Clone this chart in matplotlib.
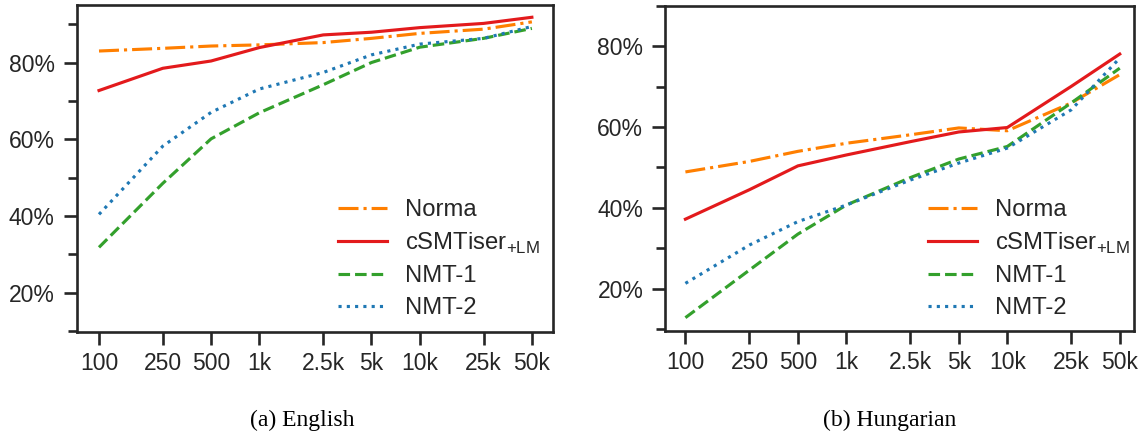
import matplotlib
matplotlib.use("Agg")
import matplotlib.pyplot as plt
from matplotlib.ticker import FixedLocator, MultipleLocator, FuncFormatter

# --- Data ---
sizes = [100, 250, 500, 1000, 2500, 5000, 10000, 25000, 50000]
size_labels = ["100", "250", "500", "1k", "2.5k", "5k", "10k", "25k", "50k"]

en_norma = [83.0, 83.7, 84.3, 84.6, 85.2, 86.3, 87.6, 88.7, 90.6]
en_csmt = [72.7, 78.5, 80.4, 83.9, 87.2, 87.9, 89.1, 90.2, 91.8]
en_nmt1 = [31.8, 48.5, 60.1, 66.9, 74.2, 80.0, 84.0, 86.3, 88.9]
en_nmt2 = [40.4, 58.2, 67.0, 73.1, 77.4, 82.0, 84.8, 86.3, 89.4]

hu_norma = [48.9, 51.5, 54.0, 56.0, 58.1, 59.8, 59.1, 66.0, 73.0]
hu_csmt = [37.2, 44.5, 50.4, 53.1, 56.4, 58.8, 59.9, 70.1, 78.1]
hu_nmt1 = [12.8, 24.6, 33.5, 40.7, 47.5, 52.1, 55.2, 66.0, 74.6]
hu_nmt2 = [21.3, 30.8, 36.6, 40.7, 46.9, 51.1, 54.8, 64.3, 77.1]

labels = ["Norma", r"cSMTiser$_{\mathrm{+LM}}$", "NMT-1", "NMT-2"]
colors = ["#ff7f00", "#e31a1c", "#33a02c", "#1f78b4"]
styles = ["-.", "-", "--", ":"]

# --- Style (roughly seaborn "ticks" + "talk") ---
txt = "#262626"
plt.rcParams.update({
    "font.family": ["Liberation Sans", "DejaVu Sans"],
    "mathtext.fontset": "custom",
    "mathtext.rm": "Liberation Sans",
    "axes.linewidth": 1.9,
    "axes.edgecolor": txt,
    "xtick.color": txt,
    "ytick.color": txt,
    "text.color": txt,
    "xtick.major.width": 1.9,
    "ytick.major.width": 1.9,
    "ytick.minor.width": 1.9,
    "xtick.major.size": 9,
    "ytick.major.size": 9.5,
    "ytick.minor.size": 6.2,
    "xtick.labelsize": 16.5,
    "ytick.labelsize": 16.5,
    "legend.fontsize": 17.2,
})

W, H = 1144, 436
fig = plt.figure(figsize=(W / 100, H / 100), dpi=100)


def px_axes(x0, x1, ytop, ybot):
    return fig.add_axes([x0 / W, 1 - ybot / H, (x1 - x0) / W, (ybot - ytop) / H])


ax_en = px_axes(76.7, 553.3, 5, 331.7)
ax_hu = px_axes(665.3, 1134, 6, 331)

panels = [
    (ax_en, [en_norma, en_csmt, en_nmt1, en_nmt2], (72.6, 68000), (9.8, 95),
     "(a) English", 302.5, (0.528, 0.435)),
    (ax_hu, [hu_norma, hu_csmt, hu_nmt1, hu_nmt2], (75, 61300), (9.5, 90),
     "(b) Hungarian", 890, (0.54, 0.435)),
]

for ax, series, xlim, ylim, caption, cap_x, leg_anchor in panels:
    for vals, lab, col, ls in zip(series, labels, colors, styles):
        ax.plot(sizes, vals, ls, color=col, lw=2.25, label=lab)
    ax.set_xscale("log")
    ax.set_xlim(*xlim)
    ax.xaxis.set_major_locator(FixedLocator(sizes))
    ax.set_xticklabels(size_labels)
    ax.xaxis.set_minor_locator(FixedLocator([]))
    ax.set_ylim(*ylim)
    ax.yaxis.set_major_locator(MultipleLocator(20))
    ax.yaxis.set_minor_locator(MultipleLocator(10))
    ax.yaxis.set_major_formatter(FuncFormatter(lambda v, p: f"{v:.0f}%"))
    ax.tick_params(axis="x", pad=5.5)
    ax.tick_params(axis="y", pad=6.3)
    ax.legend(loc="upper left", bbox_to_anchor=leg_anchor, frameon=False,
              handlelength=2.05, handletextpad=0.75, borderaxespad=0,
              labelspacing=0.4)
    fig.text(cap_x / W, 1 - 420 / H, caption, ha="center", va="center",
             fontsize=17, family="Liberation Serif", color="black")

fig.savefig("out.png", dpi=100)
